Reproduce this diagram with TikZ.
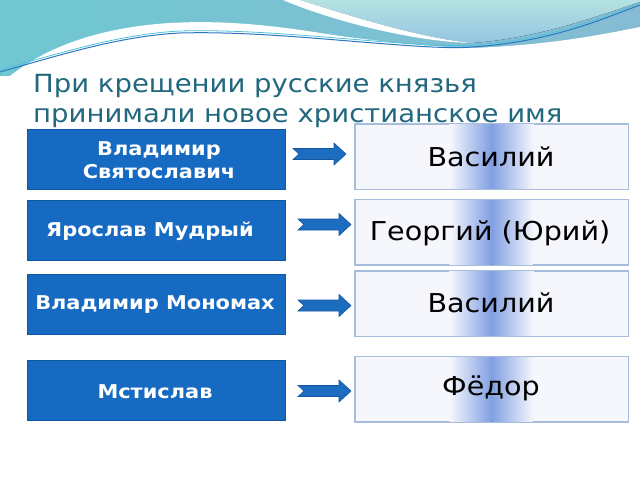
\documentclass[tikz,border=0pt]{standalone}
\usepackage{fontspec}
\setmainfont{DejaVu Sans}[FakeStretch=1.1]
\usetikzlibrary{shapes.geometric}
\definecolor{teallA}{HTML}{6FC7D2}
\definecolor{teallB}{HTML}{86BCD3}
\definecolor{cyanA}{HTML}{B4E2E2}
\definecolor{cyanB}{HTML}{94C4E2}
\definecolor{titlec}{HTML}{22687E}
\definecolor{lboxfill}{HTML}{176AC2}
\definecolor{lboxdraw}{HTML}{0F58A2}
\definecolor{rboxfill}{HTML}{F5F7FC}
\definecolor{rboxdraw}{HTML}{A6BDDC}
\definecolor{bandc}{HTML}{819FE2}
\definecolor{arrfill}{HTML}{1C6CC0}
\definecolor{arrdraw}{HTML}{1456A0}
\definecolor{lineA}{HTML}{2A76C0}
\definecolor{lineB}{HTML}{4FC2D8}
\tikzset{
  lbox/.style={draw=lboxdraw, line width=0.8pt, fill=lboxfill, inner sep=0pt,
    minimum width=258pt, minimum height=60pt},
  ltext/.style={text=white, font=\fontsize{19}{23}\selectfont\bfseries,
    align=center, inner sep=0pt},
  rbox/.style={draw=rboxdraw, line width=0.8pt, fill=rboxfill, inner sep=0pt,
    minimum width=273pt, minimum height=65pt},
  rtext/.style={font=\fontsize{26}{30}\selectfont, text=black, inner sep=0pt},
  titletext/.style={font=\fontsize{25}{30}\selectfont, text=titlec, anchor=base west, inner sep=0pt},
  barrow/.pic={
    \filldraw[fill=arrfill, draw=arrdraw, line width=0.6pt]
      (-26.5,-5.5) -- (14.5,-5.5) -- (14.5,-11) -- (26.5,0) -- (14.5,11)
      -- (14.5,5.5) -- (-26.5,5.5) -- (-20.5,0) -- cycle;
  }
}
\newcommand{\bandbox}[1]{%
  \fill[left color=rboxfill, right color=bandc]
    ([xshift=-42pt]#1.north) rectangle ([xshift=0pt]#1.south);
  \fill[left color=bandc, right color=rboxfill]
    ([xshift=0pt]#1.north) rectangle ([xshift=42pt]#1.south);
  \draw[rboxdraw, line width=0.8pt] (#1.north west) rectangle (#1.south east);
}
\begin{document}
\begin{tikzpicture}[x=1pt, y=-1pt]
\useasboundingbox (0,0) rectangle (640,480);
\fill[white] (0,0) rectangle (640,480);
% top waves
\fill[left color=teallA, right color=teallB]
  (0,0) -- (640,0) -- (640,80) -- (0,80) -- cycle;
\fill[top color=cyanA, bottom color=cyanB]
  (300,0) .. controls (350,16) and (420,38) .. (472,43)
  .. controls (540,38) and (600,15) .. (640,2) -- (640,0) -- cycle;
\fill[white]
  (283,0) -- (300,0) .. controls (350,16) and (420,38) .. (472,43)
  .. controls (420,42) and (340,24) .. (283,0) -- cycle;
\fill[white]
  (10,76) .. controls (40,52) and (90,28) .. (170,23)
  .. controls (240,19) and (300,30) .. (340,36)
  .. controls (400,44) and (440,47) .. (472,48)
  .. controls (550,45) and (600,35) .. (640,27)
  -- (640,90) -- (0,90) -- (0,76) -- cycle;
\draw[lineB, line width=0.8pt]
  (0,70) .. controls (60,53) and (120,34) .. (180,31)
  .. controls (250,29) and (330,38) .. (400,43)
  .. controls (440,46) and (460,46) .. (472,45)
  .. controls (550,40) and (600,18) .. (640,3);
\draw[lineA, line width=1pt]
  (0,72) .. controls (60,55) and (120,36) .. (180,33)
  .. controls (250,31) and (330,40) .. (400,45)
  .. controls (440,48) and (460,48) .. (472,47)
  .. controls (550,42) and (600,20) .. (640,5);
% title
\node[titletext] (t1) at (33,92) {При крещении русские князья};
\node[titletext] (t2) at (33,122) {принимали новое христианское имя};
% left boxes
\node[lbox] (l1) at (156,159) {};
\node[lbox] (l2) at (156,230) {};
\node[lbox] (l3) at (156,304) {};
\node[lbox] (l4) at (156,390) {};
\node[ltext] (l1t) at (159,160) {Владимир\\Святославич};
\node[ltext] (l2t) at (150,231) {Ярослав Мудрый};
\node[ltext] (l3t) at (155,305) {Владимир Мономах};
\node[ltext] (l4t) at (155,392) {Мстислав};
% right boxes
\node[rbox] (r1) at (491.5,156.5) {};
\node[rbox] (r2) at (491.5,232) {};
\node[rbox] (r3) at (491.5,303.5) {};
\node[rbox] (r4) at (491.5,389) {};
\bandbox{r1}
\bandbox{r2}
\bandbox{r3}
\bandbox{r4}
\node[rtext] (r1t) at (491,157) {Василий};
\node[rtext] (r2t) at (490,233) {Георгий (Юрий)};
\node[rtext] (r3t) at (491,303) {Василий};
\node[rtext] (r4t) at (491,388) {Фёдор};
% arrows
\coordinate (a1) at (319.5,154);
\coordinate (a2) at (324.5,224.5);
\coordinate (a3) at (324.5,305.5);
\coordinate (a4) at (324.5,391);
\pic at (a1) {barrow};
\pic at (a2) {barrow};
\pic at (a3) {barrow};
\pic at (a4) {barrow};
\end{tikzpicture}
\end{document}
